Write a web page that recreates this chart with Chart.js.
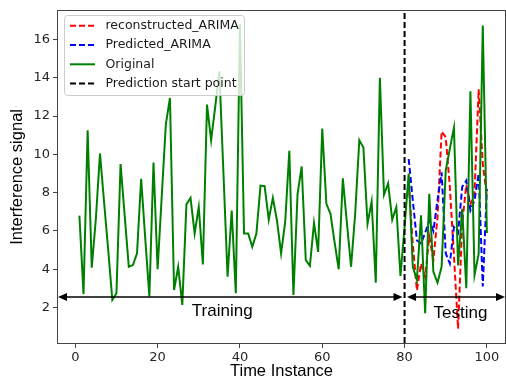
<!DOCTYPE html>
<html><head><meta charset="utf-8">
<script src="https://cdn.jsdelivr.net/npm/chart.js@4.4.0/dist/chart.umd.min.js"></script>
<style>html,body{margin:0;padding:0;background:#fff;}#wrap{width:506px;height:381px;position:relative;}</style>
</head><body><div id="wrap"><canvas id="c" width="506" height="381"></canvas></div>
<script>
// ---- data ----
const timeAll = [1,2,3,4,5,6,7,8,9,10,11,12,13,14,15,16,17,18,19,20,21,22,23,24,25,26,27,28,29,30,31,32,33,34,35,36,37,38,39,40,41,42,43,44,45,46,47,48,49,50,51,52,53,54,55,56,57,58,59,60,61,62,63,64,65,66,67,68,69,70,71,72,73,74,75,76,77,78,79,80,81,82,83,84,85,86,87,88,89,90,91,92,93,94,95,96,97,98,99,100];
const original = [6.8,2.7,11.26,4.08,6.64,10.05,7.5,5.0,2.4,2.75,9.5,6.8,4.13,4.22,4.83,8.72,5.6,2.58,9.58,4.0,7.8,11.57,12.95,2.92,4.13,2.14,7.39,7.73,5.87,7.25,4.25,12.6,10.74,12.5,14.34,9.0,3.61,7.07,2.75,16.8,5.87,5.87,5.17,5.87,8.37,8.34,6.59,7.73,6.55,4.83,6.47,10.19,2.66,7.93,9.37,4.48,4.18,6.42,4.91,11.35,7.42,6.9,5.4,4.0,8.75,6.4,4.13,6.9,10.74,10.36,6.38,7.54,3.3,14.0,7.89,8.49,6.59,7.25,3.65,6.2,9.0,4.13,3.44,6.82,1.71,7.94,3.87,3.3,4.13,9.15,10.3,11.4,4.2,7.16,3.01,13.3,3.7,4.8,16.73,5.9];
const timeTest = [81,82,83,84,85,86,87,88,89,90,91,92,93,94,95,96,97,98,99,100];
const reconstructed = [8.5,5.3,2.9,4.3,3.6,5.7,4.5,6.7,11.2,10.9,8.3,4.7,0.9,6.4,8.4,7.4,8.0,13.4,9.5,7.8];
const predicted = [9.76,7.6,5.5,5.35,5.9,6.55,6.0,7.6,9.06,4.83,4.3,6.2,5.9,8.3,8.63,7.07,7.6,9.0,3.1,8.2];
const predictionStart = 80;
const xTicks = [0,20,40,60,80,100];
const yTicks = [2,4,6,8,10,12,14,16];
const xLimits = [-4.2, 104.4];
const yLimits = [0.15, 17.5];
const labels = ['reconstructed_ARIMA','Predicted_ARIMA','Original','Prediction start point'];
const regionText = ['Training','Testing'];

const pts = (xs, ys) => xs.map((x,i)=>({x:x, y:ys[i]}));
const mk = (label, data, color, dash, order) => ({label, data, borderColor: color, backgroundColor: color, borderWidth: 2, borderDash: dash, pointRadius: 0, pointHoverRadius: 0, fill: false, tension: 0, order});

const datasets = [
  mk(labels[0], pts(timeTest, reconstructed), '#ff0000', [6,3], 4),
  mk(labels[1], pts(timeTest, predicted), '#0000ff', [6,3], 3),
  mk(labels[2], pts(timeAll, original), '#008000', [], 2),
  mk(labels[3], [{x:predictionStart, y:yLimits[0]},{x:predictionStart, y:yLimits[1]}], '#000000', [6,3], 1)
];

const frame = {
  id: 'frame',
  afterDatasetsDraw(chart) {
    const {ctx, chartArea: a, scales} = chart;
    ctx.save();
    // annotations: arrows + text
    const xs = scales.x, ys = scales.y;
    const ay = ys.getPixelForValue(2.55);
    function arrow(x0, x1) {
      const p0 = xs.getPixelForValue(x0), p1 = xs.getPixelForValue(x1);
      ctx.strokeStyle = '#000'; ctx.fillStyle = '#000'; ctx.lineWidth = 1.5; ctx.setLineDash([]);
      ctx.beginPath(); ctx.moveTo(p0 + 6, ay); ctx.lineTo(p1 - 6, ay); ctx.stroke();
      ctx.beginPath(); ctx.moveTo(p0, ay); ctx.lineTo(p0 + 9, ay - 4); ctx.lineTo(p0 + 9, ay + 4); ctx.closePath(); ctx.fill();
      ctx.beginPath(); ctx.moveTo(p1, ay); ctx.lineTo(p1 - 9, ay - 4); ctx.lineTo(p1 - 9, ay + 4); ctx.closePath(); ctx.fill();
    }
    arrow(xLimits[0], 79.5);
    arrow(80.6, xLimits[1]);
    ctx.font = '17px "Liberation Sans", Arial, sans-serif';
    ctx.fillStyle = '#000'; ctx.textAlign = 'center'; ctx.textBaseline = 'middle';
    ctx.fillText(regionText[0], xs.getPixelForValue(35.7), ys.getPixelForValue(1.8));
    ctx.fillText(regionText[1], xs.getPixelForValue(93.6), ys.getPixelForValue(1.7));
    // spines
    ctx.strokeStyle = '#444'; ctx.lineWidth = 1;
    ctx.strokeRect(Math.round(a.left) - 0.5, Math.round(a.top) - 0.5, Math.round(a.right - a.left) + 1, Math.round(a.bottom - a.top) + 1);
    // legend
    const bx = 64.5, by = 15.5, bw = 180, bh = 80, r = 3;
    ctx.fillStyle = 'rgba(255,255,255,0.8)'; ctx.strokeStyle = '#cccccc';
    ctx.beginPath();
    ctx.moveTo(bx + r, by); ctx.lineTo(bx + bw - r, by); ctx.arcTo(bx + bw, by, bx + bw, by + r, r);
    ctx.lineTo(bx + bw, by + bh - r); ctx.arcTo(bx + bw, by + bh, bx + bw - r, by + bh, r);
    ctx.lineTo(bx + r, by + bh); ctx.arcTo(bx, by + bh, bx, by + bh - r, r);
    ctx.lineTo(bx, by + r); ctx.arcTo(bx, by, bx + r, by, r); ctx.closePath();
    ctx.fill(); ctx.stroke();
    ctx.font = '12.5px "DejaVu Sans", sans-serif'; ctx.textAlign = 'left'; ctx.textBaseline = 'middle';
    chart.data.datasets.forEach((d, i) => {
      const yy = 25.7 + i * 19.3;
      ctx.strokeStyle = d.borderColor; ctx.lineWidth = 2; ctx.setLineDash(d.borderDash || []);
      ctx.beginPath(); ctx.moveTo(70, yy); ctx.lineTo(95, yy); ctx.stroke();
      ctx.setLineDash([]);
      ctx.fillStyle = '#1a1a1a';
      ctx.fillText(d.label, 105.5, yy);
    });
    ctx.restore();
  }
};

const tickFont = {family: '"DejaVu Sans", sans-serif', size: 13};
const titleFont = {family: '"Liberation Sans", Arial, sans-serif', size: 16.5};

new Chart(document.getElementById('c'), {
  type: 'line',
  data: {datasets},
  options: {
    responsive: false, animation: false, devicePixelRatio: 1,
    layout: {padding: {top: 9, right: 1, left: 0, bottom: 0}},
    plugins: {legend: {display: false}, tooltip: {enabled: false}},
    scales: {
      x: {
        type: 'linear', min: xLimits[0], max: xLimits[1],
        afterBuildTicks: s => { s.ticks = xTicks.map(v => ({value: v})); },
        afterFit: s => { s.height = 38; },
        ticks: {font: tickFont, color: '#262626', padding: 2, maxRotation: 0, autoSkip: false},
        grid: {display: true, drawOnChartArea: false, drawTicks: true, tickLength: 5, color: '#444', tickWidth: 1},
        border: {display: false},
        title: {display: true, text: 'Time Instance', font: titleFont, color: '#000', padding: {top: 0, bottom: 0}}
      },
      y: {
        type: 'linear', min: yLimits[0], max: yLimits[1],
        afterBuildTicks: s => { s.ticks = yTicks.map(v => ({value: v})); },
        afterFit: s => { s.width = 58; },
        ticks: {font: tickFont, color: '#262626', padding: 3, autoSkip: false},
        grid: {display: true, drawOnChartArea: false, drawTicks: true, tickLength: 5, color: '#444', tickWidth: 1},
        border: {display: false},
        title: {display: true, text: 'Interference signal', font: titleFont, color: '#000', padding: {top: 8, bottom: 0}}
      }
    }
  },
  plugins: [frame]
});
</script></body></html>
